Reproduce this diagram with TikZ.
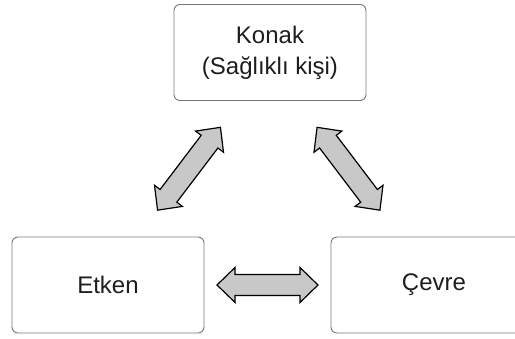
\documentclass[tikz,border=0pt]{standalone}
\usepackage{fontspec}
\setmainfont{Liberation Sans}
\usetikzlibrary{calc}
\definecolor{boxline}{RGB}{120,120,120}
\definecolor{arrowfill}{RGB}{200,200,200}
\definecolor{inktext}{RGB}{30,30,30}
\tikzset{
  box/.style={draw=boxline, line width=0.9pt, rounded corners=6pt, fill=white,
    minimum width=192pt, minimum height=96pt, align=center, text=inktext,
    font=\fontsize{24}{31}\selectfont, inner sep=0pt},
  arrowbody/.style={draw=black, fill=arrowfill, line width=1.2pt, line join=miter},
  pics/twoway/.style={code={
    \pgfmathsetmacro{\halflen}{#1/2}
    \pgfmathsetmacro{\neck}{#1/2-18}
    \draw[arrowbody] (-\halflen pt,0) -- (-\neck pt,17.5pt) -- (-\neck pt,10.5pt)
      -- (\neck pt,10.5pt) -- (\neck pt,17.5pt) -- (\halflen pt,0)
      -- (\neck pt,-17.5pt) -- (\neck pt,-10.5pt) -- (-\neck pt,-10.5pt)
      -- (-\neck pt,-17.5pt) -- cycle;
  }}
}
\begin{document}
\begin{tikzpicture}[x=1pt,y=1pt]
  \useasboundingbox (0,0) rectangle (515,338);
  % the three factors
  \node[box] (konak) at (270,285.5) {Konak\\(Sağlıklı kişi)};
  \node[box] (etken) at (108,53) {Etken};
  \node[box, minimum width=206pt] (cevre) at (434,53) {Çevre};
  % two-way block arrows between them
  \pic[rotate=52.8] at ($(konak.south west)!0.5!(etken.north east)$) {twoway=104};
  \pic[rotate=-52.8] at ($(konak.south east)!0.5!(cevre.north west)$) {twoway=104};
  \pic at ($(etken.east)!0.5!(cevre.west)$) {twoway=101};
\end{tikzpicture}
\end{document}
